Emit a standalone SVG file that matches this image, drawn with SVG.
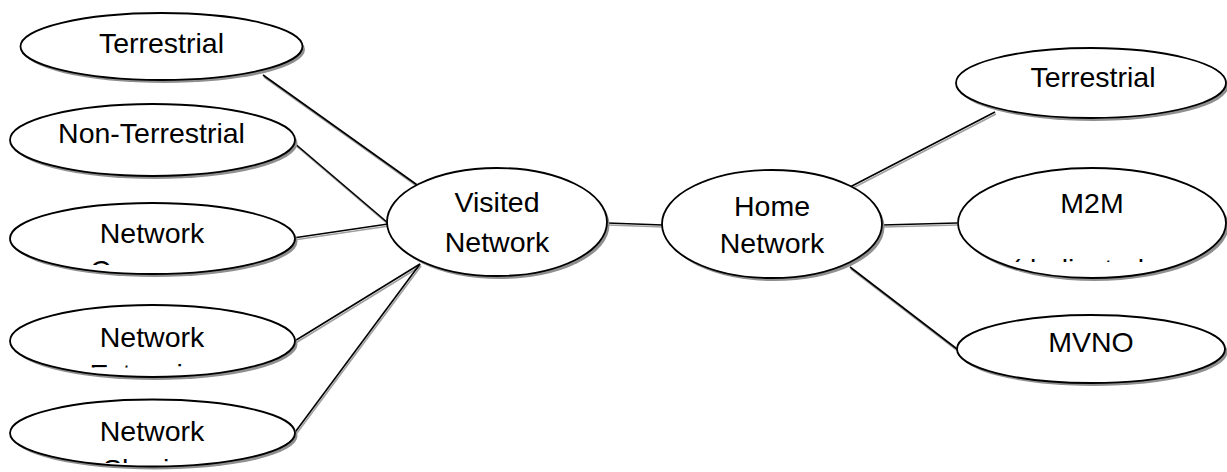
<svg xmlns="http://www.w3.org/2000/svg" width="1227" height="472" viewBox="0 0 1227 472">
<style>
.sh{fill:#8f8f8f;stroke:none}
.nd{fill:#fff;stroke:#000;stroke-width:1.8}
.t{font-family:"Liberation Sans",Arial,sans-serif;font-size:28.5px;fill:#000;text-anchor:middle}
.ln{stroke:#000;stroke-width:1.6;fill:none}
.lns{stroke:#a0a0a0;stroke-width:1.6;fill:none}
</style>
<defs>
<clipPath id="cCov"><rect x="0" y="0" width="320" height="265"/></clipPath>
<clipPath id="cExt"><rect x="0" y="0" width="320" height="367.5"/></clipPath>
<clipPath id="cSha"><rect x="0" y="0" width="320" height="463"/></clipPath>
<clipPath id="cM2M"><rect x="900" y="0" width="327" height="262"/></clipPath>
</defs>
<g id="connectors">
<g transform="translate(1,2)" class="lns">
<line x1="263" y1="75" x2="420" y2="187"/>
<line x1="293" y1="142" x2="388" y2="223"/>
<line x1="293" y1="238" x2="388" y2="224"/>
<line x1="293" y1="342" x2="420" y2="264"/>
<line x1="293" y1="435" x2="420" y2="264"/>
<line x1="607" y1="223" x2="663" y2="225"/>
<line x1="850" y1="187" x2="995" y2="112"/>
<line x1="882" y1="225" x2="957" y2="223"/>
<line x1="850" y1="267" x2="957" y2="349"/>
</g>
<g class="ln">
<line x1="263" y1="75" x2="420" y2="187"/>
<line x1="293" y1="142" x2="388" y2="223"/>
<line x1="293" y1="238" x2="388" y2="224"/>
<line x1="293" y1="342" x2="420" y2="264"/>
<line x1="293" y1="435" x2="420" y2="264"/>
<line x1="607" y1="223" x2="663" y2="225"/>
<line x1="850" y1="187" x2="995" y2="112"/>
<line x1="882" y1="225" x2="957" y2="223"/>
<line x1="850" y1="267" x2="957" y2="349"/>
</g>
</g>
<g id="terrestrial-left">
<ellipse class="sh" cx="164" cy="49.5" rx="141" ry="33.5"/>
<ellipse class="nd" cx="161.5" cy="46.5" rx="141" ry="33.5"/>
<text class="t" x="161.5" y="53">Terrestrial</text>
</g>
<g id="non-terrestrial">
<ellipse class="sh" cx="155" cy="143" rx="142.5" ry="36"/>
<ellipse class="nd" cx="152.5" cy="140" rx="142.5" ry="36"/>
<text class="t" x="151.5" y="143">Non-Terrestrial</text>
</g>
<g id="network-coverage">
<ellipse class="sh" cx="155" cy="241.5" rx="142.5" ry="35.5"/>
<ellipse class="nd" cx="152.5" cy="238.5" rx="142.5" ry="35.5"/>
<text class="t" x="152" y="243" clip-path="url(#cCov)">Network<tspan x="152" y="280">Coverage</tspan></text>
</g>
<g id="network-extension">
<ellipse class="sh" cx="155" cy="344" rx="142.5" ry="36"/>
<ellipse class="nd" cx="152.5" cy="341" rx="142.5" ry="36"/>
<text class="t" x="152" y="347" clip-path="url(#cExt)">Network<tspan x="152" y="384">Extension</tspan></text>
</g>
<g id="network-sharing">
<ellipse class="sh" cx="155" cy="436" rx="142.5" ry="33.5"/>
<ellipse class="nd" cx="152.5" cy="433" rx="142.5" ry="33.5"/>
<text class="t" x="152" y="441" clip-path="url(#cSha)">Network<tspan x="152" y="479">Sharing</tspan></text>
</g>
<g id="visited-network">
<ellipse class="sh" cx="499.5" cy="225" rx="110" ry="54"/>
<ellipse class="nd" cx="497" cy="222" rx="110" ry="54"/>
<text class="t" x="497" y="212">Visited<tspan x="497" y="252">Network</tspan></text>
</g>
<g id="home-network">
<ellipse class="sh" cx="774.5" cy="227" rx="110" ry="54"/>
<ellipse class="nd" cx="772" cy="224" rx="110" ry="54"/>
<text class="t" x="772" y="216">Home<tspan x="772" y="253">Network</tspan></text>
</g>
<g id="terrestrial-right">
<ellipse class="sh" cx="1093.5" cy="86" rx="135" ry="35"/>
<ellipse class="nd" cx="1091" cy="83" rx="135" ry="35"/>
<text class="t" x="1093" y="87">Terrestrial</text>
</g>
<g id="m2m">
<ellipse class="sh" cx="1094.5" cy="226" rx="134" ry="55"/>
<ellipse class="nd" cx="1092" cy="223" rx="134" ry="55"/>
<text class="t" x="1092" y="213">M2M</text>
<text class="t" x="1011" y="279" style="text-anchor:start" clip-path="url(#cM2M)">(dedicated</text>
</g>
<g id="mvno">
<ellipse class="sh" cx="1093.5" cy="352" rx="134" ry="34"/>
<ellipse class="nd" cx="1091" cy="349" rx="134" ry="34"/>
<text class="t" x="1091" y="352">MVNO</text>
</g>
</svg>
